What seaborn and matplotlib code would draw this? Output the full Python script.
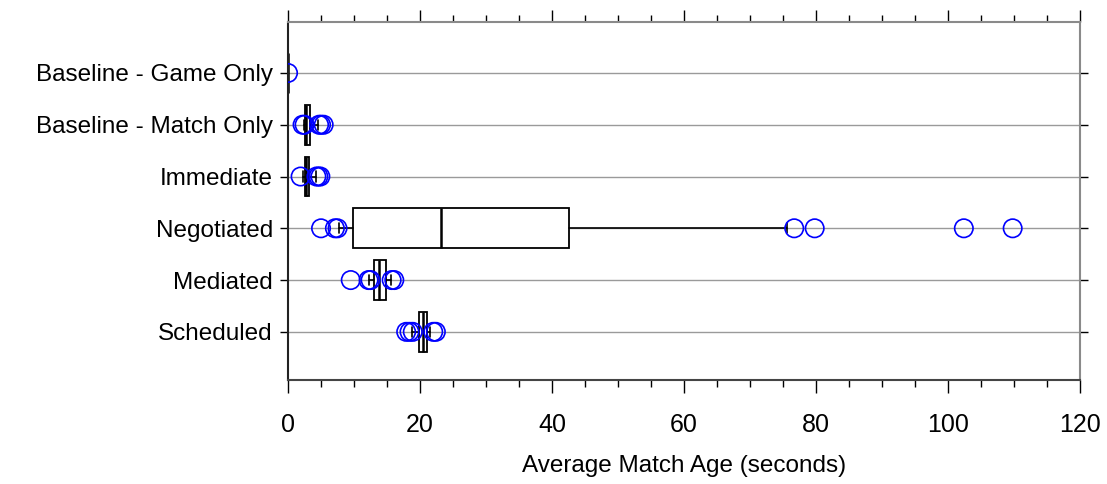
import matplotlib
matplotlib.use("Agg")
import matplotlib.pyplot as plt
from matplotlib.ticker import MultipleLocator
import seaborn as sns
import pandas as pd

categories = ["Baseline - Game Only", "Baseline - Match Only", "Immediate",
              "Negotiated", "Mediated", "Scheduled"]
q1 = [0.0, 2.5, 2.5, 9.8, 13.0, 19.9]
median = [0.0, 2.75, 2.7, 23.2, 13.8, 20.4]
q3 = [0.0, 3.3, 3.2, 42.6, 14.8, 21.0]
whisker_low = [0.0, 2.4, 2.3, 7.7, 12.2, 18.8]
whisker_high = [0.0, 4.5, 4.2, 75.6, 15.6, 21.5]
outliers = [
    [0.0],
    [2.2, 2.5, 4.7, 5.0, 5.4],
    [1.9, 4.3, 4.6, 4.9],
    [5.0, 7.1, 7.5, 76.7, 79.8, 102.4, 109.8],
    [9.5, 12.2, 12.5, 15.7, 16.1],
    [17.9, 18.4, 18.9, 22.0, 22.4],
]
x_ticks = [0, 20, 40, 60, 80, 100, 120]

sns.set_theme(style="white")
plt.rcParams["font.family"] = ["Liberation Sans", "DejaVu Sans"]

fig = plt.figure(figsize=(11.07, 4.84), dpi=100)
ax = fig.add_axes([0.2602, 0.2149, 0.7154, 0.7397])

positions = list(range(len(categories)))
stats = [dict(label=c, q1=a, med=m, q3=b, whislo=lo, whishi=hi, fliers=[])
         for c, a, m, b, lo, hi in zip(categories, q1, median, q3, whisker_low, whisker_high)]
ax.bxp(stats, positions=positions, orientation="horizontal", widths=0.77,
       capwidths=0.2, patch_artist=True, showfliers=False,
       boxprops=dict(facecolor="white", edgecolor="black", linewidth=1.3),
       medianprops=dict(color="black", linewidth=1.8),
       whiskerprops=dict(color="black", linewidth=1.2),
       capprops=dict(color="black", linewidth=1.2),
       manage_ticks=False, zorder=2)

df = pd.DataFrame({
    "value": [v for vals in outliers for v in vals],
    "pos": [p for p, vals in zip(positions, outliers) for _ in vals],
})
sns.scatterplot(data=df, x="value", y="pos", ax=ax, marker="o", s=175,
                facecolor="none", edgecolor="#0000ff", linewidth=1.2,
                zorder=3, legend=False, clip_on=True)

ax.set_xlim(0, 120)
ax.set_ylim(5.93, -0.985)
ax.set_xticks(x_ticks)
ax.set_xticklabels([str(t) for t in x_ticks])
ax.xaxis.set_minor_locator(MultipleLocator(5))
ax.set_yticks(positions)
ax.set_yticklabels(categories)

ax.set_axisbelow(True)
ax.yaxis.grid(True, color="#9a9a9a", linewidth=1)
ax.xaxis.grid(False)

ax.tick_params(axis="x", which="both", bottom=True, top=True, direction="out",
               color="black", width=1)
ax.tick_params(axis="x", which="major", length=9, labelsize=18, pad=15)
ax.tick_params(axis="x", which="minor", length=5)
ax.tick_params(axis="y", which="major", left=True, right=True, direction="out",
               length=6, width=1, color="black", labelsize=17.5, pad=5)

for side, col in [("left", "#222222"), ("bottom", "#444444"),
                  ("top", "#8a8a8a"), ("right", "#8a8a8a")]:
    ax.spines[side].set_visible(True)
    ax.spines[side].set_color(col)
    ax.spines[side].set_linewidth(1.5)

ax.set_xlabel("Average Match Age (seconds)", fontsize=17.5, labelpad=13, color="black")
ax.set_ylabel("")
for lbl in ax.get_xticklabels() + ax.get_yticklabels():
    lbl.set_color("black")

fig.savefig("out.png", dpi=100)
